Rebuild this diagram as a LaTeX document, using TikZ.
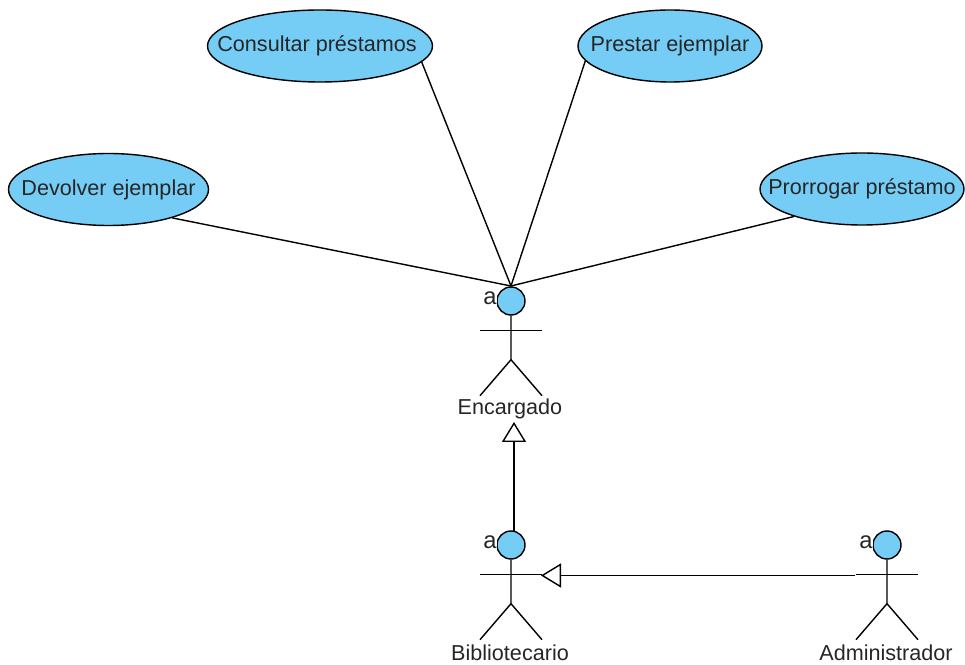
\documentclass[tikz,border=0pt]{standalone}
\usepackage{xcolor}
\usepackage{fontspec}
\setmainfont{Liberation Sans}
\usetikzlibrary{shapes,positioning,arrows.meta}
\definecolor{ucblue}{RGB}{117,205,245}

\begin{document}
\begin{tikzpicture}[x=.02cm,y=-.02cm,line width=.8pt,font=\fontsize{12.3}{14}\selectfont,text=black!85,
    usecase/.style={ellipse,draw,fill=ucblue,inner sep=0pt,minimum width=#1*.02cm,minimum height=72*.02cm},
    head/.style={circle,draw,fill=ucblue,inner sep=0pt,minimum size=28*.02cm},
    gen/.style={-{Triangle[open,length=20*.02cm,width=24*.02cm]}}]
    \useasboundingbox (0,0) rectangle (965,665);
    \node[usecase=225,label={[xshift=-.06cm]center:Consultar préstamos}] (consultar) at (320,46) {};
    \node[usecase=200,label={center:Devolver ejemplar}] (devolver) at (108.5,189.5) {};
    \node[usecase=184,label={center:Prestar ejemplar}] (prestar) at (670,46) {};
    \node[usecase=204,label={center:Prorrogar préstamo}] (prorrogar) at (862,189) {};
    \foreach \n/\x/\y/\t in {enc/511/301/Encargado,bib/511/545/Bibliotecario,adm/887/545/Administrador}{
      \node[head] (\n_head) at (\x,\y) {};
      \node[fill=white,inner sep=.2pt,font=\fontsize{13.5}{14}\selectfont] (\n_a) at (\x-21,\y-3) {a};
      \draw (\n_head.south) -- ++(0,44) coordinate (\n_hip) -- ++(-31,36);
      \draw (\n_hip) -- ++(31,36);
      \draw (\n_head.south) ++(-31,15) coordinate (\n_arm) -- ++(62,0);
      \node (\n_label) at (\x-1,\y+108) {\t};
    }
    \coordinate (enc_top) at (511,286);
    \foreach \n/\a in {devolver/-24,consultar/-9,prestar/190.6,prorrogar/202.7}{
      \draw (\n.\a) -- (enc_top);
    }
    \coordinate (enc_tip) at (514,422);
    \coordinate (bib_top) at (514,531);
    \coordinate (bib_tip) at (541,575.5);
    \coordinate (adm_end) at (855,575.5);
    \draw[gen] (bib_top) -- (enc_tip);
    \draw[gen] (adm_end) -- (bib_tip);
\end{tikzpicture}
\end{document}
